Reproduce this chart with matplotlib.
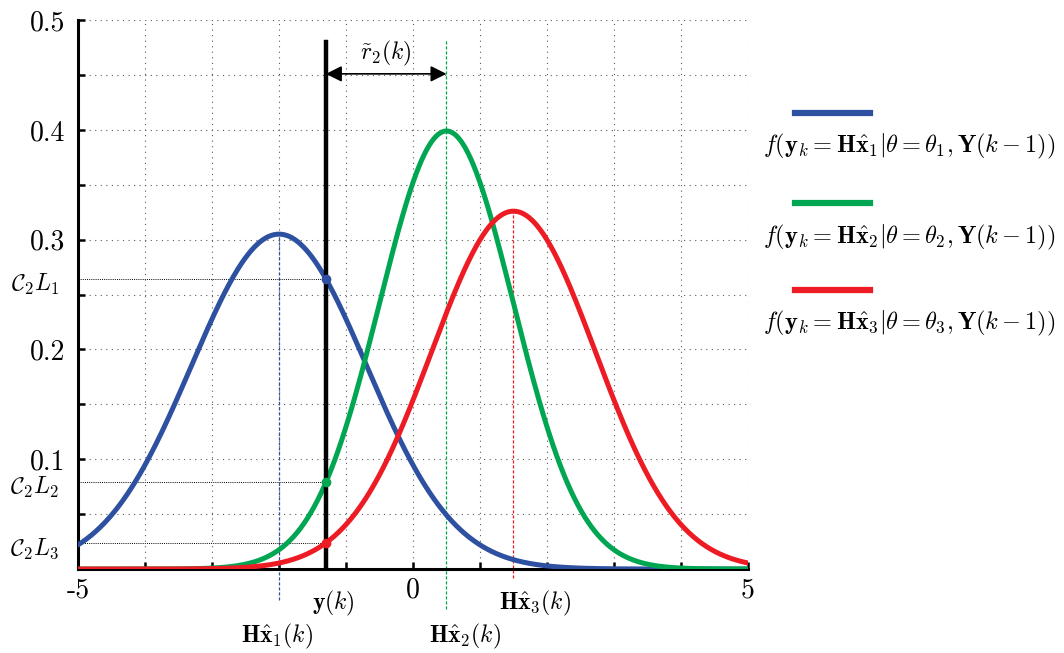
import numpy as np
import matplotlib
matplotlib.use("Agg")
import matplotlib.pyplot as plt
from matplotlib.lines import Line2D

plt.rcParams["font.family"] = "cmr10"
plt.rcParams["mathtext.fontset"] = "cm"
plt.rcParams["axes.unicode_minus"] = False

# Gaussian likelihoods for the three hypotheses
means = [-2.0, 0.5, 1.5]
sigmas = [1.308, 1.0, 1.224]
colors = ["#2e50a0", "#00a651", "#ed1c24"]
y_meas = -1.3
x_ticks = [-5, -4, -3, -2, -1, 0, 1, 2, 3, 4, 5]
x_labels = ["-5", "", "", "", "", "0", "", "", "", "", "5"]
y_ticks = [0.0, 0.05, 0.1, 0.15, 0.2, 0.25, 0.3, 0.35, 0.4, 0.45, 0.5]
y_labels = ["", "", "0.1", "", "0.2", "", "0.3", "", "0.4", "", "0.5"]
c_labels = [r"$\mathcal{C}_2L_1$", r"$\mathcal{C}_2L_2$", r"$\mathcal{C}_2L_3$"]
legend_labels = [
    r"$f(\mathbf{y}_k=\mathbf{H}\hat{\mathbf{x}}_1|\theta=\theta_1,\mathbf{Y}(k-1))$",
    r"$f(\mathbf{y}_k=\mathbf{H}\hat{\mathbf{x}}_2|\theta=\theta_2,\mathbf{Y}(k-1))$",
    r"$f(\mathbf{y}_k=\mathbf{H}\hat{\mathbf{x}}_3|\theta=\theta_3,\mathbf{Y}(k-1))$",
]
mean_labels = [r"$\mathbf{H}\hat{\mathbf{x}}_1(k)$", r"$\mathbf{H}\hat{\mathbf{x}}_2(k)$",
               r"$\mathbf{H}\hat{\mathbf{x}}_3(k)$"]


def gauss(x, mu, s):
    return np.exp(-0.5 * ((x - mu) / s) ** 2) / (np.sqrt(2 * np.pi) * s)


fig = plt.figure(figsize=(10.64, 6.53), dpi=100)
ax = fig.add_axes([0.0733, 0.1286, 0.6297, 0.8407])

x = np.linspace(-5, 5, 600)
for mu, s, c in zip(means, sigmas, colors):
    ax.plot(x, gauss(x, mu, s), color=c, lw=3.6, solid_capstyle="round", zorder=3)

# dashed lines at each mean, running below the axis to the labels
bottoms = [-0.028, -0.036, -0.008]
tops = [gauss(means[0], means[0], sigmas[0]), 0.482, gauss(means[2], means[2], sigmas[2])]
for mu, c, b, t in zip(means, colors, bottoms, tops):
    ax.plot([mu, mu], [b, t], color=c, lw=0.9, ls=(0, (2.5, 1.5)), clip_on=False, zorder=2)

# measurement line and the likelihood values at it
ax.plot([y_meas, y_meas], [0, 0.48], color="black", lw=3.2, zorder=4)
for mu, s, c, lab in zip(means, sigmas, colors, c_labels):
    v = gauss(y_meas, mu, s)
    ax.plot([-5, y_meas], [v, v], color="black", lw=0.7, ls=(0, (1, 1.2)), zorder=2)
    ax.plot(y_meas, v, "o", color=c, ms=6, zorder=5)
    ax.text(-5.28, v - 0.005, lab, fontsize=17, ha="right", va="center", clip_on=False)

ax.annotate("", xy=(means[1], 0.451), xytext=(y_meas, 0.451),
            arrowprops=dict(arrowstyle="<|-|>", color="black", lw=1.2, mutation_scale=24,
                            shrinkA=0, shrinkB=0))
ax.text((y_meas + means[1]) / 2, 0.456, r"$\tilde{r}_2(k)$", fontsize=17, ha="center", va="bottom")

ax.text(-1.19, -0.031, r"$\mathbf{y}(k)$", fontsize=17, ha="center", va="center")
ax.text(-2.03, -0.061, mean_labels[0], fontsize=17, ha="center", va="center")
ax.text(0.78, -0.061, mean_labels[1], fontsize=17, ha="center", va="center")
ax.text(1.82, -0.031, mean_labels[2], fontsize=17, ha="center", va="center")

ax.set_xlim(-5, 5)
ax.set_ylim(0, 0.5)
ax.set_xticks(x_ticks)
ax.set_xticklabels(x_labels)
ax.set_yticks(y_ticks)
ax.set_yticklabels(y_labels)
ax.tick_params(direction="in", length=5, width=1.8, labelsize=20)
ax.tick_params(axis="y", pad=9)
ax.tick_params(axis="x", pad=6)
ax.grid(True, color="0.35", lw=0.8, ls=(0, (1, 4)))
for side in ["top", "right"]:
    ax.spines[side].set_visible(False)
for side in ["left", "bottom"]:
    ax.spines[side].set_linewidth(2.2)

# legend: a line sample with the formula beneath it
line_y = [0.827, 0.689, 0.556]
for c, lab, ly in zip(colors, legend_labels, line_y):
    fig.add_artist(Line2D([0.747, 0.818], [ly, ly], color=c, lw=4.5,
                          transform=fig.transFigure))
    fig.text(0.855, ly - 0.052, lab, fontsize=17.5, ha="center", va="center")

fig.savefig("out.png", dpi=100)
